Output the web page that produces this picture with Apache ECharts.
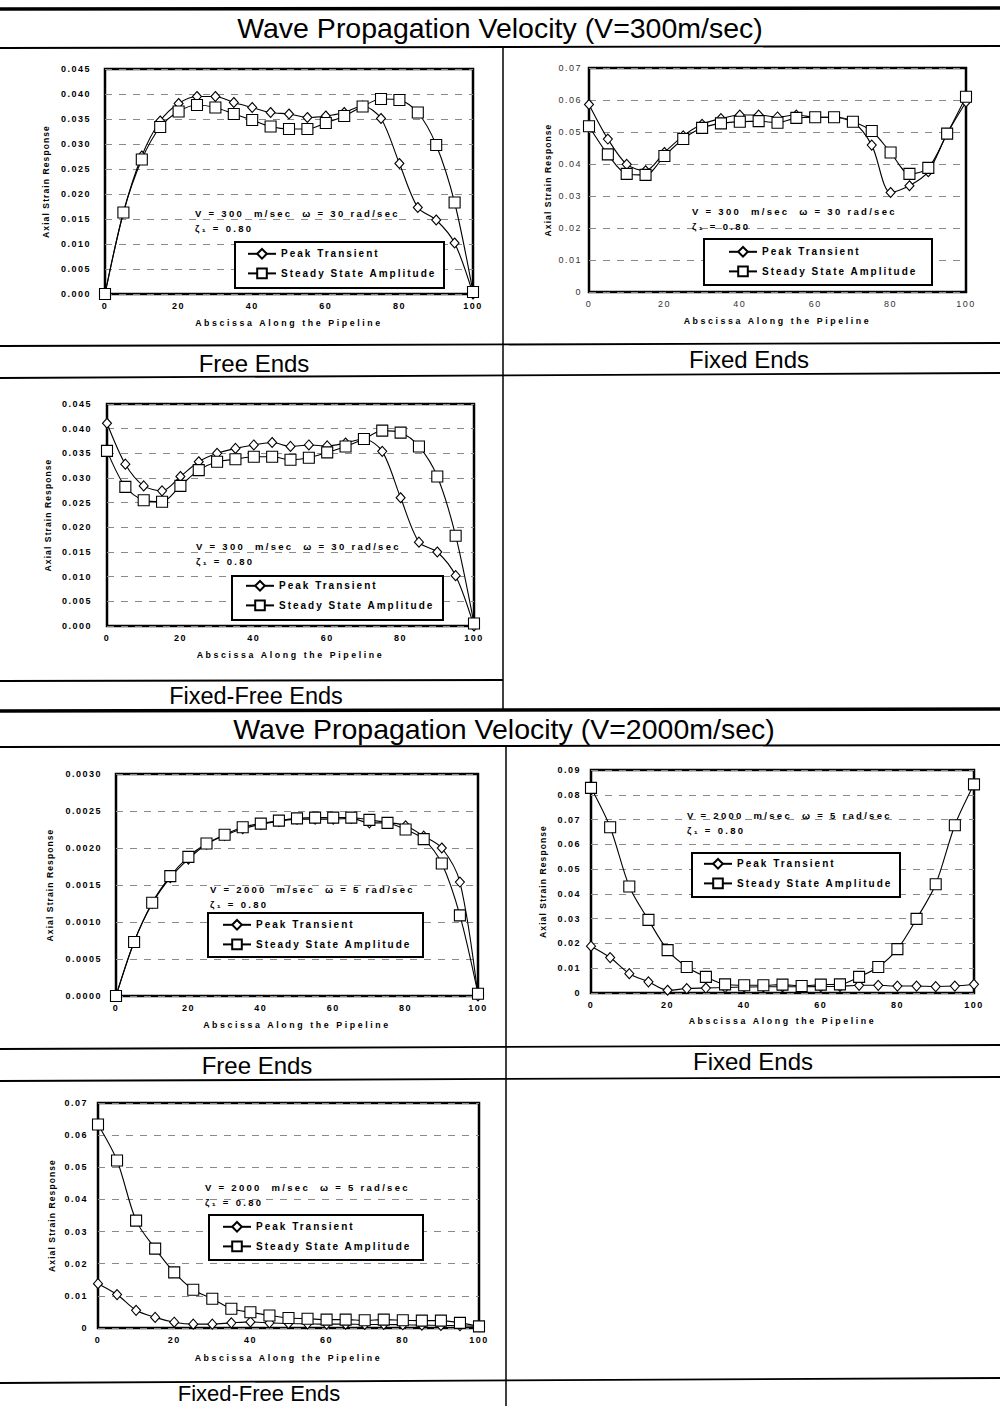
<!DOCTYPE html>
<html>
<head>
<meta charset="utf-8">
<title>Axial Strain Response Along the Pipeline</title>
<script src="https://cdn.jsdelivr.net/npm/echarts@6/dist/echarts.min.js"></script>
<style>
  html, body { margin: 0; padding: 0; background: #fff; }
  #chart { width: 1000px; height: 1406px; }
  /* tracked-out caption faces (SVG text) */
  #chart text[style*="ftick"]   { letter-spacing: 1.5px; }
  #chart text[style*="fxname"]  { letter-spacing: 2.6px; }
  #chart text[style*="fyname"]  { letter-spacing: 1.1px; }
  #chart text[style*="fnote"]   { letter-spacing: 2.3px; }
  #chart text[style*="flegend"] { letter-spacing: 2.0px; }
</style>
</head>
<body>
<div id="chart"></div>
<script>
// Stations along the pipeline
const abscissa = [0, 5, 10, 15, 20, 25, 30, 35, 40, 45, 50, 55, 60, 65, 70, 75, 80, 85, 90, 95, 100];
const xTicks = [0, 100, 20];

// V = 300 m/sec, omega = 30 rad/sec
const peakFree300   = [0, 0.0163, 0.0276, 0.0346, 0.0381, 0.0395, 0.0395, 0.0383, 0.0373, 0.0363, 0.0360, 0.0353, 0.0356, 0.0363, 0.0376, 0.0351, 0.0261, 0.0173, 0.0148, 0.0102, 0];
const steadyFree300 = [0, 0.0163, 0.0269, 0.0334, 0.0365, 0.0378, 0.0373, 0.0360, 0.0348, 0.0335, 0.0330, 0.0330, 0.0342, 0.0356, 0.0375, 0.0390, 0.0388, 0.0363, 0.0298, 0.0183, 0.0004];

const peakFixed300   = [0.0586, 0.0478, 0.0399, 0.0379, 0.0436, 0.0488, 0.0524, 0.0542, 0.0553, 0.0553, 0.0547, 0.0553, 0.0546, 0.0546, 0.0532, 0.0459, 0.0311, 0.0332, 0.0376, 0.0495, 0.0594];
const steadyFixed300 = [0.0518, 0.0430, 0.0369, 0.0366, 0.0425, 0.0478, 0.0513, 0.0527, 0.0532, 0.0534, 0.0529, 0.0544, 0.0546, 0.0546, 0.0532, 0.0503, 0.0436, 0.0369, 0.0388, 0.0495, 0.0610];

const peakFixedFree300   = [0.0411, 0.0328, 0.0284, 0.0274, 0.0303, 0.0333, 0.0350, 0.0360, 0.0367, 0.0372, 0.0364, 0.0367, 0.0365, 0.0371, 0.0379, 0.0354, 0.0260, 0.0170, 0.0150, 0.0102, 0];
const steadyFixedFree300 = [0.0355, 0.0282, 0.0255, 0.0252, 0.0284, 0.0316, 0.0333, 0.0338, 0.0343, 0.0343, 0.0337, 0.0341, 0.0352, 0.0364, 0.0379, 0.0396, 0.0392, 0.0364, 0.0303, 0.0183, 0.0005];

// V = 2000 m/sec, omega = 5 rad/sec
const peakFree2000   = [0, 0.00073, 0.00125, 0.00160, 0.00185, 0.00205, 0.00217, 0.00226, 0.00232, 0.00236, 0.00239, 0.00239, 0.00239, 0.00240, 0.00234, 0.00234, 0.00230, 0.00216, 0.00200, 0.00154, 0];
const steadyFree2000 = [0, 0.00073, 0.00126, 0.00162, 0.00188, 0.00206, 0.00218, 0.00228, 0.00233, 0.00237, 0.00240, 0.00241, 0.00241, 0.00241, 0.00238, 0.00234, 0.00225, 0.00212, 0.00179, 0.00109, 0.00003];

const peakFixed2000   = [0.0189, 0.0143, 0.0078, 0.0045, 0.0011, 0.0018, 0.0020, 0.0022, 0.0024, 0.0025, 0.0025, 0.0025, 0.0026, 0.0027, 0.0031, 0.0031, 0.0028, 0.0028, 0.0026, 0.0028, 0.0035];
const steadyFixed2000 = [0.0828, 0.0669, 0.0430, 0.0295, 0.0173, 0.0105, 0.0065, 0.0035, 0.0031, 0.0031, 0.0034, 0.0028, 0.0034, 0.0035, 0.0065, 0.0105, 0.0177, 0.0299, 0.0439, 0.0677, 0.0842];

const peakFixedFree2000   = [0.0138, 0.0104, 0.0055, 0.0033, 0.0018, 0.0012, 0.0012, 0.0016, 0.0019, 0.0016, 0.0014, 0.0013, 0.0012, 0.0012, 0.0011, 0.0011, 0.0010, 0.0009, 0.0008, 0.0007, 0.0005];
const steadyFixedFree2000 = [0.0633, 0.0521, 0.0334, 0.0247, 0.0173, 0.0119, 0.0091, 0.0060, 0.0049, 0.0039, 0.0031, 0.0029, 0.0026, 0.0026, 0.0024, 0.0026, 0.0024, 0.0023, 0.0023, 0.0016, 0.0005];

// y scales [min, max, step] and their tick labels
const yScale300      = [0, 0.045, 0.005];
const yLabels300     = ['0.000', '0.005', '0.010', '0.015', '0.020', '0.025', '0.030', '0.035', '0.040', '0.045'];
const yScaleFixed300 = [0, 0.07, 0.01];
const yLabelsFixed300 = ['0', '0.01', '0.02', '0.03', '0.04', '0.05', '0.06', '0.07'];
const yScaleFree2000 = [0, 0.003, 0.0005];
const yLabelsFree2000 = ['0.0000', '0.0005', '0.0010', '0.0015', '0.0020', '0.0025', '0.0030'];
const yScaleFixed2000 = [0, 0.09, 0.01];
const yLabelsFixed2000 = ['0', '0.01', '0.02', '0.03', '0.04', '0.05', '0.06', '0.07', '0.08', '0.09'];
const yScaleFixedFree2000 = [0, 0.07, 0.01];
const yLabelsFixedFree2000 = ['0', '0.01', '0.02', '0.03', '0.04', '0.05', '0.06', '0.07'];

const seriesNames = ['Peak Transient', 'Steady State Amplitude'];
const note300 = ['V = 300  m/sec  \u03c9 = 30 rad/sec', '\u03b6\u2081 = 0.80'];
const note2000 = ['V = 2000  m/sec  \u03c9 = 5 rad/sec', '\u03b6\u2081 = 0.80'];

const FONT_TICK = "ftick, 'Liberation Sans', Arial, sans-serif";
const FONT_XNAME = "fxname, 'Liberation Sans', Arial, sans-serif";
const FONT_YNAME = "fyname, 'Liberation Sans', Arial, sans-serif";
const FONT_NOTE = "fnote, 'Liberation Sans', Arial, sans-serif";
const FONT_LEGEND = "flegend, 'Liberation Sans', Arial, sans-serif";
const FONT_HEAD = "'Liberation Sans', Arial, sans-serif";

// Layout of the six panels
const panels = [
  { grid: { left: 105, top: 69, width: 368, height: 225 }, scale: yScale300, labels: yLabels300,
    peak: peakFree300, steady: steadyFree300, yMargin: 14, yGap: 55, xGap: 24, bold: true,
    note: note300, noteAt: [195, 213], frame: [235, 242, 209, 46], legendAt: [247, 248] },
  { grid: { left: 589, top: 68, width: 377, height: 224 }, scale: yScaleFixed300, labels: yLabelsFixed300,
    peak: peakFixed300, steady: steadyFixed300, yMargin: 7, yGap: 37, xGap: 24, bold: false,
    note: note300, noteAt: [692, 211], frame: [704, 239, 228, 46], legendAt: [728, 246] },
  { grid: { left: 107, top: 404, width: 367, height: 222 }, scale: yScale300, labels: yLabels300,
    peak: peakFixedFree300, steady: steadyFixedFree300, yMargin: 15, yGap: 55, xGap: 24, bold: true,
    note: note300, noteAt: [196, 546], frame: [232, 576, 211, 44], legendAt: [245, 580] },
  { grid: { left: 116, top: 774, width: 362, height: 222 }, scale: yScaleFree2000, labels: yLabelsFree2000,
    peak: peakFree2000, steady: steadyFree2000, yMargin: 14, yGap: 62, xGap: 24, bold: true,
    note: note2000, noteAt: [210, 889], frame: [208, 913, 215, 44], legendAt: [222, 919] },
  { grid: { left: 591, top: 770, width: 383, height: 223 }, scale: yScaleFixed2000, labels: yLabelsFixed2000,
    peak: peakFixed2000, steady: steadyFixed2000, yMargin: 10, yGap: 44, xGap: 23, bold: true,
    note: note2000, noteAt: [687, 815], frame: [692, 853, 208, 44], legendAt: [703, 858] },
  { grid: { left: 98, top: 1103, width: 381, height: 225 }, scale: yScaleFixedFree2000, labels: yLabelsFixedFree2000,
    peak: peakFixedFree2000, steady: steadyFixedFree2000, yMargin: 10, yGap: 42, xGap: 25, bold: true,
    note: note2000, noteAt: [205, 1187], frame: [209, 1215, 214, 45], legendAt: [222, 1221] }
];

const pairs = vals => abscissa.map((x, i) => [x, vals[i]]);

const grids = [], xAxes = [], yAxes = [], series = [], legends = [], elements = [];

panels.forEach((p, k) => {
  grids.push(Object.assign({ show: true, borderColor: '#000', borderWidth: 2.5, backgroundColor: 'transparent',
    outerBoundsMode: 'none', containLabel: false }, p.grid));

  const tickColor = p.bold ? '#000' : '#333';
  const tickWeight = p.bold ? 'bold' : 'normal';

  xAxes.push({
    type: 'value', gridIndex: k, min: xTicks[0], max: xTicks[1], interval: xTicks[2],
    name: 'Abscissa Along the Pipeline', nameLocation: 'middle', nameGap: p.xGap,
    nameTextStyle: { fontFamily: FONT_XNAME, fontWeight: 'bold', fontSize: 8.8, color: '#000' },
    axisLine: { show: false }, axisTick: { show: false }, splitLine: { show: false },
    axisLabel: { margin: 7, fontFamily: FONT_TICK, fontWeight: tickWeight, fontSize: 9, color: tickColor }
  });

  const [ymin, ymax, ystep] = p.scale;
  yAxes.push({
    type: 'value', gridIndex: k, min: ymin, max: ymax, interval: ystep,
    name: 'Axial Strain Response', nameLocation: 'middle', nameGap: p.yGap, nameRotate: 90,
    nameTextStyle: { fontFamily: FONT_YNAME, fontWeight: 'bold', fontSize: 8.5, color: '#000' },
    axisLine: { show: false }, axisTick: { show: false },
    splitLine: { show: true, lineStyle: { color: '#8a8a8a', width: 1, type: [7, 7] } },
    axisLabel: {
      margin: p.yMargin, fontFamily: FONT_TICK, fontWeight: tickWeight, fontSize: 9, color: tickColor,
      formatter: v => p.labels[Math.round((v - ymin) / ystep)]
    }
  });

  const common = {
    type: 'line', xAxisIndex: k, yAxisIndex: k, smooth: 0.3, clip: false, animation: false,
    lineStyle: { color: '#000', width: 1.1 },
    itemStyle: { color: '#fff', borderColor: '#000', borderWidth: 1.1 },
    emphasis: { disabled: true }
  };
  series.push(Object.assign({}, common, { name: seriesNames[0], data: pairs(p.peak), symbol: 'diamond', symbolSize: [9, 10], z: 3 }));
  series.push(Object.assign({}, common, { name: seriesNames[1], data: pairs(p.steady), symbol: 'rect', symbolSize: 11, z: 4 }));

  legends.push({
    left: p.legendAt[0], top: p.legendAt[1], orient: 'vertical', padding: 0,
    itemWidth: 28, itemHeight: 12, itemGap: 8, selectedMode: false, z: 6,
    textStyle: { fontFamily: FONT_LEGEND, fontWeight: 'bold', fontSize: 10, color: '#000' },
    data: seriesNames.slice()
  });

  const f = p.frame;
  elements.push({ type: 'rect', z: 5, shape: { x: f[0], y: f[1], width: f[2], height: f[3] },
    style: { fill: '#fff', stroke: '#000', lineWidth: 2 } });
  elements.push({ type: 'text', z: 5, style: { text: p.note[0], x: p.noteAt[0], y: p.noteAt[1],
    font: 'bold 9.5px ' + FONT_NOTE, fill: '#000', textAlign: 'left', verticalAlign: 'middle' } });
  elements.push({ type: 'text', z: 5, style: { text: p.note[1], x: p.noteAt[0], y: p.noteAt[1] + 15,
    font: 'bold 9.5px ' + FONT_NOTE, fill: '#000', textAlign: 'left', verticalAlign: 'middle' } });
});

// Table rules
const rule = (x1, y1, x2, y2, w) => ({ type: 'line', z: 1, shape: { x1, y1, x2, y2 }, style: { stroke: '#000', lineWidth: w } });
elements.push(
  rule(0, 9, 1000, 8, 3.5),
  rule(0, 48, 1000, 46, 1.8),
  rule(503, 47, 503, 710, 1.5),
  rule(0, 346, 1000, 343, 1.8),
  rule(0, 378, 1000, 373, 1.8),
  rule(0, 681, 503, 680, 1.8),
  rule(0, 711, 1000, 709, 3.5),
  rule(0, 747, 1000, 745, 1.8),
  rule(506, 746, 506, 1406, 1.5),
  rule(0, 1049, 1000, 1045, 1.8),
  rule(0, 1081, 1000, 1077, 1.8),
  rule(0, 1383, 1000, 1378, 1.8)
);

const heading = (text, x, y, size) => ({ type: 'text', z: 1, style: { text, x, y,
  font: size + 'px ' + FONT_HEAD, fill: '#000', textAlign: 'center', verticalAlign: 'middle' } });
elements.push(
  heading('Wave Propagation Velocity (V=300m/sec)', 500, 28, 28.5),
  heading('Free Ends', 254, 363, 24),
  heading('Fixed Ends', 749, 359, 24),
  heading('Fixed-Free Ends', 256, 696, 23.5),
  heading('Wave Propagation Velocity (V=2000m/sec)', 504, 729, 28.5),
  heading('Free Ends', 257, 1065, 24),
  heading('Fixed Ends', 753, 1061, 24),
  heading('Fixed-Free Ends', 259, 1393, 22)
);

const chart = echarts.init(document.getElementById('chart'), null, { renderer: 'svg', width: 1000, height: 1406 });
chart.setOption({
  backgroundColor: '#fff',
  animation: false,
  grid: grids,
  xAxis: xAxes,
  yAxis: yAxes,
  legend: legends,
  series: series,
  graphic: { elements: elements }
});
</script>
</body>
</html>
